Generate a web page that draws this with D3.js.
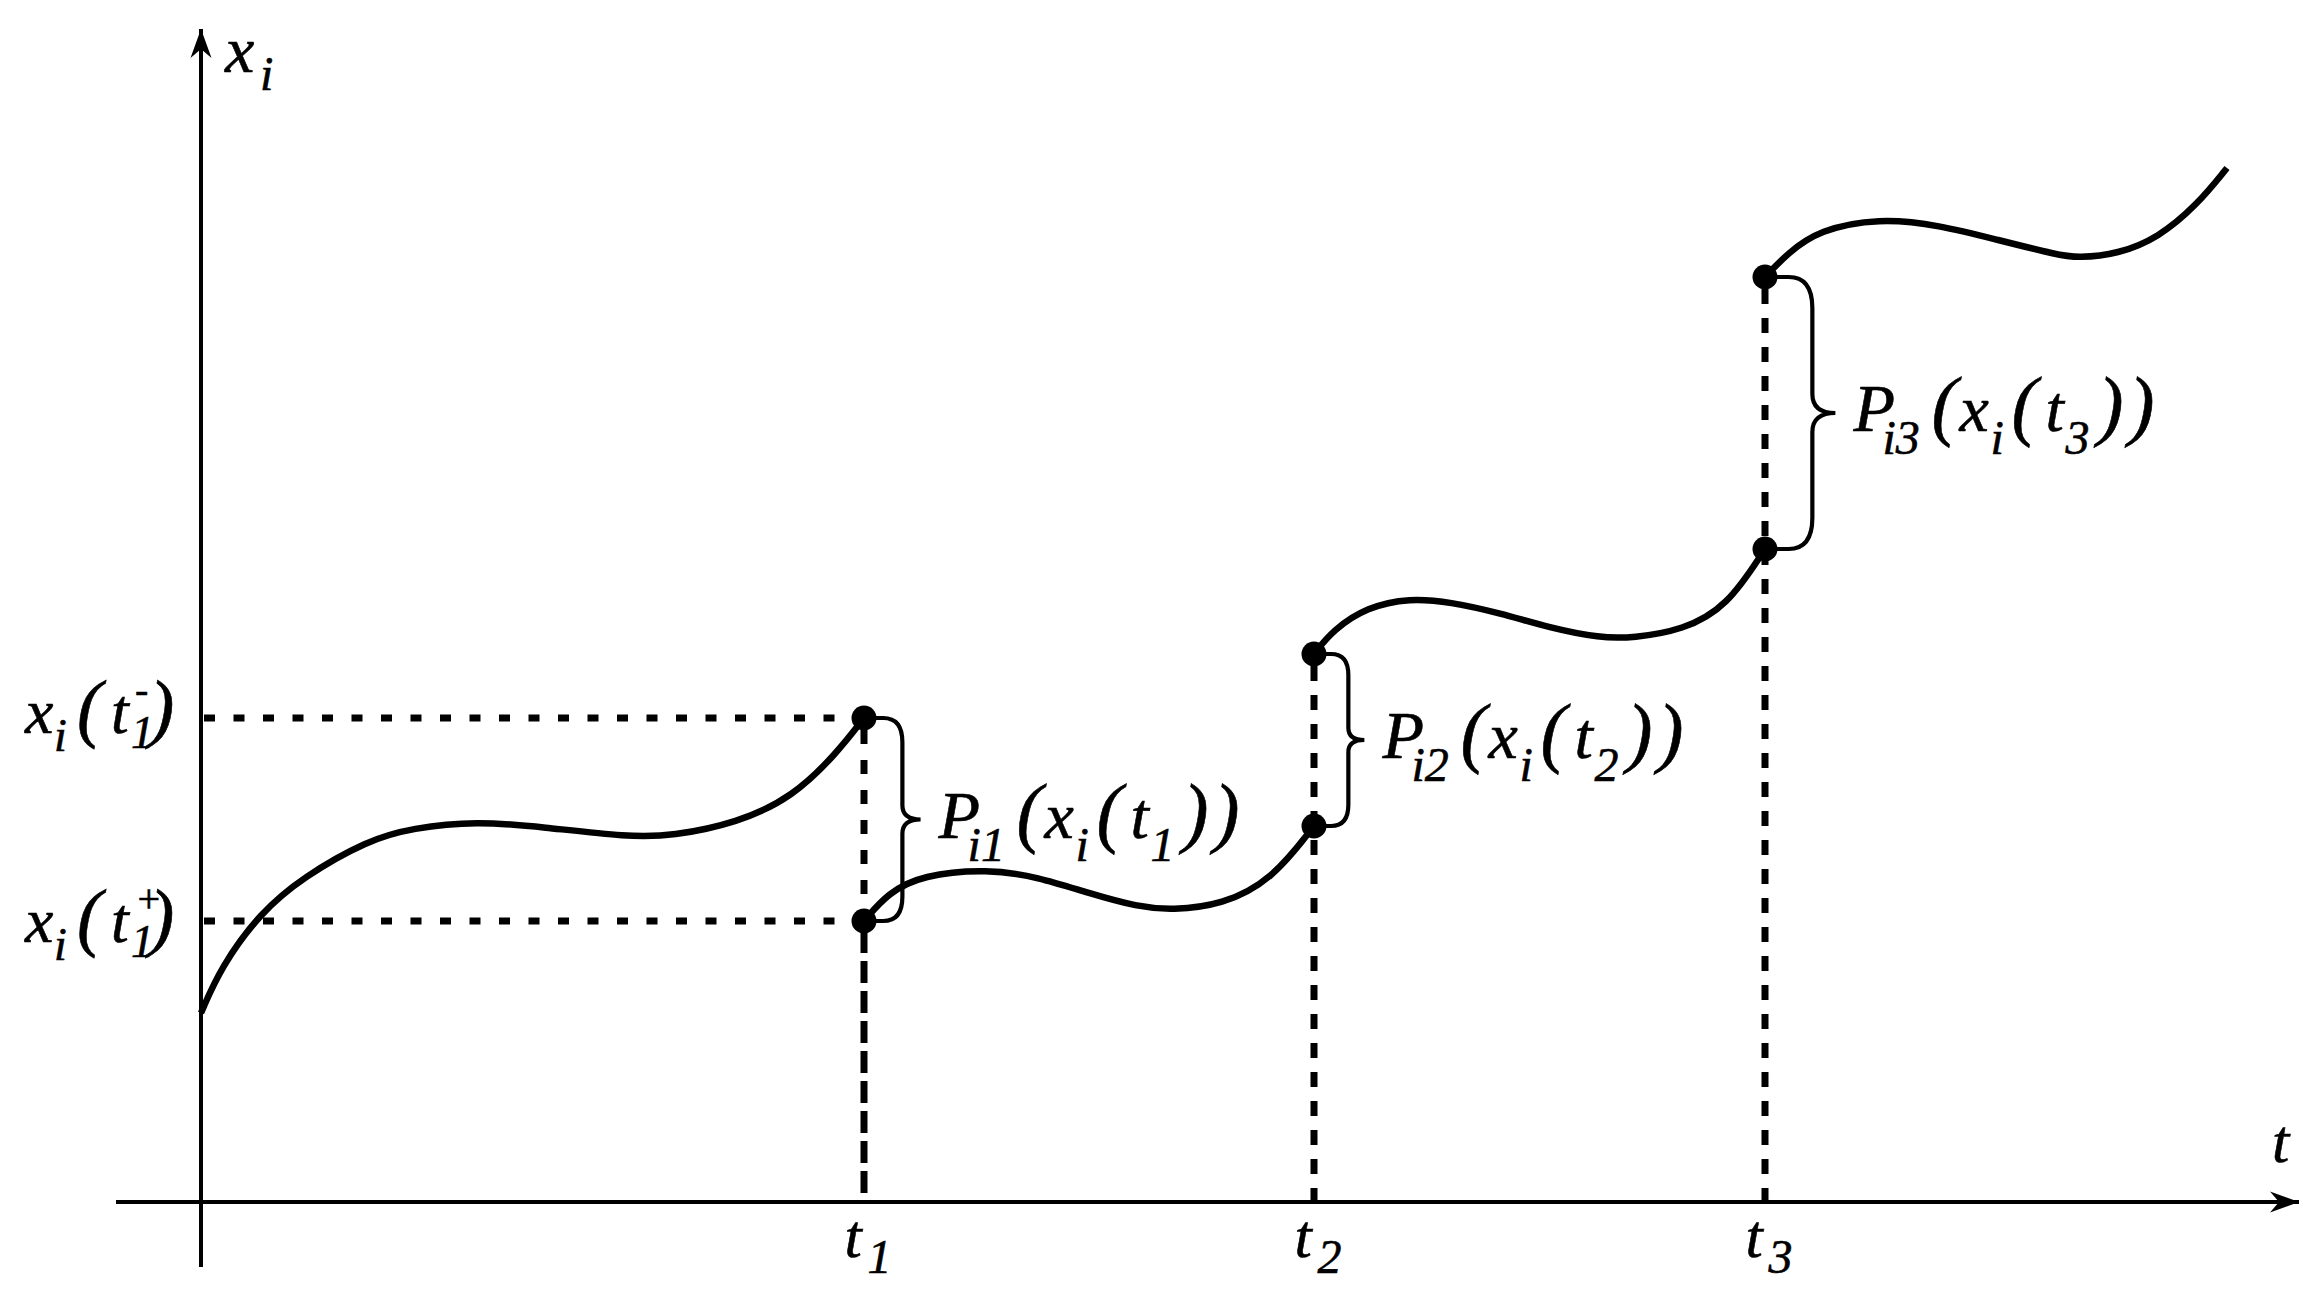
<!DOCTYPE html>
<html>
<head>
<meta charset="utf-8">
<script src="https://cdn.jsdelivr.net/npm/d3@7"></script>
<style>
  html, body { margin: 0; padding: 0; background: #ffffff; }
  svg { display: block; }
  .math { font-family: "Liberation Serif", "DejaVu Serif", serif; font-style: italic; stroke: #000; stroke-width: 0.6; }
</style>
</head>
<body>
<svg id="chart" width="2324" height="1304"></svg>
<script>
// ---------------- DATA ----------------
// impulse moments t_k and the state just before / just after each jump
const jumpIndex    = ["1", "2", "3"];
const jumpTimes    = [6.63, 11.13, 15.64];
const valuesBefore = [4.84, 3.76, 6.53];   // x_i(t_k^-)
const valuesAfter  = [2.81, 5.48, 9.25];   // x_i(t_k^+)

// continuous pieces of the trajectory [t, x_i]
const segment1 = [[0, 1.89], [0.20, 2.35], [0.59, 2.89], [1.02, 3.25], [1.67, 3.62], [2.11, 3.74],
                  [2.76, 3.81], [3.41, 3.75], [4.28, 3.65], [4.71, 3.66], [5.36, 3.79], [5.92, 4.05],
                  [6.36, 4.49], [6.63, 4.84]];
const segment2 = [[6.63, 2.81], [6.87, 3.09], [7.21, 3.27], [7.87, 3.33], [8.37, 3.25], [8.87, 3.09],
                  [9.37, 2.95], [9.71, 2.92], [10.21, 2.97], [10.71, 3.22], [11.13, 3.76]];
const segment3 = [[11.13, 5.48], [11.32, 5.72], [11.66, 5.95], [12.09, 6.04], [12.49, 6.00], [12.99, 5.89],
                  [13.49, 5.74], [13.99, 5.64], [14.32, 5.64], [14.82, 5.72], [15.26, 5.95], [15.64, 6.53]];
const segment4 = [[15.64, 9.25], [15.87, 9.49], [16.18, 9.72], [16.78, 9.84], [17.38, 9.77], [17.97, 9.62],
                  [18.57, 9.47], [18.77, 9.44], [19.17, 9.48], [19.57, 9.64], [19.96, 9.97], [20.26, 10.34]];
const segments = [segment1, segment2, segment3, segment4];

// axis extents
const tDomain = [-0.85, 21.02];
const xDomain = [-0.65, 11.77];

// ---------------- LAYOUT ----------------
const svg = d3.select("#chart");

const x = d3.scaleLinear().domain(tDomain).range([116, 2303]);
const y = d3.scaleLinear().domain(xDomain).range([1267, 25]);

const defs = svg.append("defs");
defs.append("marker")
  .attr("id", "arrow")
  .attr("markerUnits", "userSpaceOnUse")
  .attr("viewBox", "-32 -13 34 26")
  .attr("refX", 0).attr("refY", 0)
  .attr("markerWidth", 34).attr("markerHeight", 26)
  .attr("orient", "auto")
  .append("path")
  .attr("d", "M0,0 L-29,-10.5 L-20,0 L-29,10.5 Z")
  .attr("fill", "#000");

function mathLabel(parent, x0, y0, pieces) {
  const t = parent.append("text")
    .attr("class", "math")
    .attr("text-anchor", "start")
    .attr("fill", "#000");
  pieces.forEach(p => {
    t.append("tspan")
      .attr("x", x0 + p.dx)
      .attr("y", y0 + (p.dy || 0))
      .attr("font-size", p.size)
      .text(p.s);
  });
  return t;
}

// ---------------- DASHED GUIDES ----------------
const guides = svg.append("g").attr("stroke", "#000").attr("stroke-width", 7).attr("fill", "none");
// horizontal guides for t1
[valuesBefore[0], valuesAfter[0]].forEach(v => {
  guides.append("line")
    .attr("x1", x(0) + 3).attr("x2", x(jumpTimes[0]))
    .attr("y1", y(v)).attr("y2", y(v))
    .attr("stroke-dasharray", "11,18.5");
});
// vertical guides
jumpTimes.forEach((t, i) => {
  const hi = Math.max(valuesBefore[i], valuesAfter[i]);
  const lo = Math.min(valuesBefore[i], valuesAfter[i]);
  if (i === 0) {
    guides.append("line")
      .attr("x1", x(t)).attr("x2", x(t))
      .attr("y1", y(hi) + 12).attr("y2", y(lo))
      .attr("stroke-dasharray", "14,16");
    guides.append("line")
      .attr("x1", x(t)).attr("x2", x(t))
      .attr("y1", y(lo) + 10).attr("y2", y(0))
      .attr("stroke-dasharray", "22,8");
  } else {
    guides.append("line")
      .attr("x1", x(t)).attr("x2", x(t))
      .attr("y1", y(hi) + 12).attr("y2", y(0))
      .attr("stroke-dasharray", "15,14");
  }
});

// ---------------- AXES ----------------
const xAxis = d3.axisBottom(x).tickValues(jumpTimes).tickSize(0).tickFormat("");
const xAxisG = svg.append("g").attr("transform", `translate(0,${y(0)})`).call(xAxis);
xAxisG.select(".domain").remove();
xAxisG.append("line")
  .attr("x1", x(tDomain[0])).attr("x2", x(tDomain[1]) - 4)
  .attr("stroke", "#000").attr("stroke-width", 4)
  .attr("marker-end", "url(#arrow)");
xAxisG.selectAll(".tick").each(function(d, i) {
  mathLabel(d3.select(this), 0, 55, [
    { s: "t", dx: -20, size: 62 },
    { s: jumpIndex[i], dx: 3, dy: 16, size: 48 }
  ]);
});

const yTickValues = [valuesBefore[0], valuesAfter[0]];
const ySigns = ["-", "+"];
const yBaseShift = [14, 20];
const yAxis = d3.axisLeft(y).tickValues(yTickValues).tickSize(0).tickFormat("");
const yAxisG = svg.append("g").attr("transform", `translate(${x(0)},0)`).call(yAxis);
yAxisG.select(".domain").remove();
yAxisG.append("line")
  .attr("x1", 0).attr("x2", 0)
  .attr("y1", y(xDomain[0])).attr("y2", y(xDomain[1]) + 4)
  .attr("stroke", "#000").attr("stroke-width", 4)
  .attr("marker-end", "url(#arrow)");
yAxisG.selectAll(".tick").each(function(d, i) {
  mathLabel(d3.select(this), -176, yBaseShift[i], [
    { s: "x", dx: 0, size: 64 },
    { s: "i", dx: 29, dy: 18, size: 46 },
    { s: "(", dx: 52, size: 76 },
    { s: "t", dx: 86, size: 64 },
    { s: ySigns[i], dx: 110, dy: -30, size: 40 },
    { s: "1", dx: 106, dy: 15, size: 46 },
    { s: ")", dx: 124, size: 76 }
  ]);
});

// axis titles
mathLabel(svg, x(0) + 24, 72, [
  { s: "x", dx: 0, size: 66 },
  { s: "i", dx: 35, dy: 18, size: 48 }
]);
mathLabel(svg, 2272, 1162, [{ s: "t", dx: 0, size: 62 }]);

// ---------------- TRAJECTORY ----------------
const line = d3.line()
  .x(d => x(d[0]))
  .y(d => y(d[1]))
  .curve(d3.curveBasis);

svg.append("g").selectAll("path")
  .data(segments)
  .join("path")
  .attr("d", line)
  .attr("fill", "none")
  .attr("stroke", "#000")
  .attr("stroke-width", 6.5)
  .attr("stroke-linecap", "butt");

// ---------------- BRACES ----------------
const braces = svg.append("g").attr("fill", "none").attr("stroke", "#000").attr("stroke-width", 4.2);
jumpTimes.forEach((t, i) => {
  const xd = x(t);
  const yTop = y(Math.max(valuesBefore[i], valuesAfter[i]));
  const yBot = y(Math.min(valuesBefore[i], valuesAfter[i]));
  const h = yBot - yTop;
  const ym = (yTop + yBot) / 2;
  const xv = xd + 12 + 0.13 * h;
  const xt = xv + 4 + 0.07 * h;
  const rx = 0.5 * (xv - xd);
  const ry = 0.1 * h + 4;
  const th = 0.07 * h;
  const p = d3.path();
  p.moveTo(xd, yTop);
  p.lineTo(xv - rx, yTop);
  p.quadraticCurveTo(xv, yTop, xv, yTop + ry);
  p.lineTo(xv, ym - th);
  p.quadraticCurveTo(xv, ym, xt, ym);
  p.quadraticCurveTo(xv, ym, xv, ym + th);
  p.lineTo(xv, yBot - ry);
  p.quadraticCurveTo(xv, yBot, xv - rx, yBot);
  p.lineTo(xd, yBot);
  braces.append("path").attr("d", p.toString());

  const k = jumpIndex[i];
  mathLabel(svg, xt + 18, ym + 18, [
    { s: "P", dx: 0, size: 68 },
    { s: "i" + k, dx: 29, dy: 23, size: 48 },
    { s: "(", dx: 78, size: 78 },
    { s: "x", dx: 106, size: 66 },
    { s: "i", dx: 137, dy: 23, size: 48 },
    { s: "(", dx: 158, size: 78 },
    { s: "t", dx: 192, size: 66 },
    { s: k, dx: 212, dy: 23, size: 48 },
    { s: ")", dx: 244, size: 78 },
    { s: ")", dx: 275, size: 78 }
  ]);
});

// ---------------- JUMP POINTS ----------------
const pts = [];
jumpTimes.forEach((t, i) => { pts.push([t, valuesBefore[i]]); pts.push([t, valuesAfter[i]]); });
svg.append("g").selectAll("circle")
  .data(pts)
  .join("circle")
  .attr("cx", d => x(d[0]))
  .attr("cy", d => y(d[1]))
  .attr("r", 12.5)
  .attr("fill", "#000");
</script>
</body>
</html>
